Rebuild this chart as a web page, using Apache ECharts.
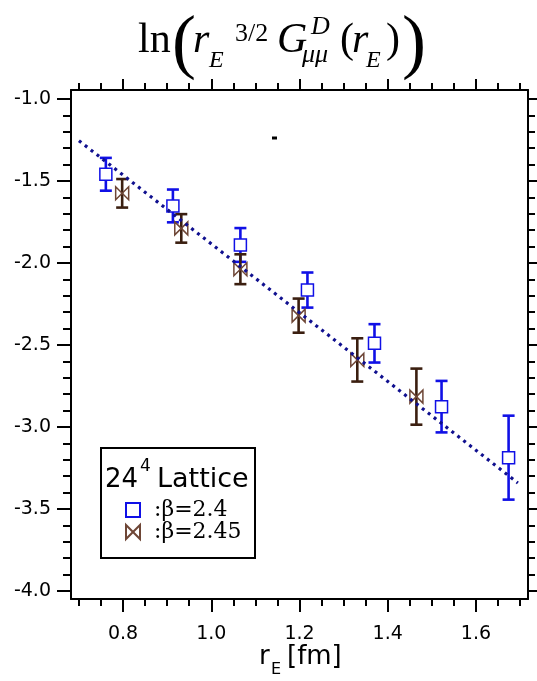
<!DOCTYPE html>
<html>
<head>
<meta charset="utf-8">
<script src="https://cdn.jsdelivr.net/npm/echarts@6/dist/echarts.min.js"></script>
<style>
  html, body { margin: 0; padding: 0; background: #fff; }
  #chart { width: 537px; height: 681px; }
</style>
</head>
<body>
<div id="chart"></div>
<script>
// beta = 2.4 (blue squares)
const blueX = [0.761, 0.913, 1.066, 1.218, 1.370, 1.522, 1.674]
const blueY = [-1.459, -1.652, -1.890, -2.165, -2.490, -2.876, -3.187]
const blueErr = [0.100, 0.100, 0.103, 0.107, 0.117, 0.157, 0.256]

// beta = 2.45 (brown bowties)
const brownX = [0.798, 0.932, 1.066, 1.198, 1.331, 1.465]
const brownY = [-1.575, -1.789, -2.038, -2.321, -2.591, -2.815]
const brownErr = [0.087, 0.087, 0.091, 0.104, 0.132, 0.171]

// dotted fit line end points
const fitX = [0.700, 1.695]
const fitY = [-1.254, -3.341]

// axis ticks
const xMajor = [0.8, 1.0, 1.2, 1.4, 1.6]
const xMinor = [0.7, 0.75, 0.85, 0.9, 0.95, 1.05, 1.1, 1.15, 1.25, 1.3, 1.35, 1.45, 1.5, 1.55, 1.65, 1.7]
const yMajor = [-4.0, -3.5, -3.0, -2.5, -2.0, -1.5, -1.0]
const yMinor = [-3.9, -3.8, -3.7, -3.6, -3.4, -3.3, -3.2, -3.1, -2.9, -2.8, -2.7, -2.6,
  -2.4, -2.3, -2.2, -2.1, -1.9, -1.8, -1.7, -1.6, -1.4, -1.3, -1.2, -1.1]

const names = [':β=2.4', ':β=2.45']

const chart = echarts.init(document.getElementById('chart'))

const BLUE = '#1010e6'
const BROWN = '#3b1f10'
const BOWTIE = '#6e4636'
const bowtie = 'path://M0,0 L0,10 L10,0 L10,10 Z'

const X_MIN = 0.682, X_MAX = 1.718
const Y_MIN = -4.049, Y_MAX = -0.945

const errorBars = (xs, ys, errs, color) => ({
  type: 'custom',
  z: 2,
  data: xs.map((x, i) => [x, ys[i] - errs[i], ys[i] + errs[i]]),
  encode: { x: 0, y: [1, 2] },
  renderItem (params, api) {
    const lo = api.coord([api.value(0), api.value(1)])
    const hi = api.coord([api.value(0), api.value(2)])
    const w = 6
    const style = { stroke: color, lineWidth: 2.6 }
    return {
      type: 'group',
      children: [
        { type: 'line', shape: { x1: hi[0], y1: hi[1], x2: lo[0], y2: lo[1] }, style },
        { type: 'line', shape: { x1: hi[0] - w, y1: hi[1], x2: hi[0] + w, y2: hi[1] }, style },
        { type: 'line', shape: { x1: lo[0] - w, y1: lo[1], x2: lo[0] + w, y2: lo[1] }, style }
      ]
    }
  }
})

const axisLine = { show: true, lineStyle: { color: '#000', width: 2 } }
const noLine = { show: false }
const xAxis = (pos, ticks, len, withLine, withLabels) => ({
  type: 'value', position: pos, min: X_MIN, max: X_MAX,
  axisLine: withLine ? axisLine : noLine,
  axisTick: { show: true, customValues: ticks, length: len, lineStyle: { color: '#000', width: 2 } },
  axisLabel: withLabels ? {
    show: true, customValues: ticks, margin: 26,
    formatter: v => v.toFixed(1),
    fontFamily: 'DejaVu Sans', fontSize: 19, color: '#000'
  } : { show: false },
  splitLine: { show: false }
})
const yAxis = (pos, ticks, len, withLine, withLabels) => ({
  type: 'value', position: pos, min: Y_MIN, max: Y_MAX,
  axisLine: withLine ? axisLine : noLine,
  axisTick: { show: true, customValues: ticks, length: len, lineStyle: { color: '#000', width: 2 } },
  axisLabel: withLabels ? {
    show: true, customValues: ticks, margin: 20,
    formatter: v => v.toFixed(1),
    fontFamily: 'DejaVu Sans', fontSize: 19, color: '#000'
  } : { show: false },
  splitLine: { show: false }
})

const titleFont = 'Liberation Serif'
const t = (text, x, y, size, italic) => ({
  type: 'text', x, y,
  style: {
    text, fontFamily: titleFont, fontSize: size, fill: '#000',
    fontStyle: italic ? 'italic' : 'normal', verticalAlign: 'middle'
  }
})
const sans = (text, x, y, size) => ({
  type: 'text', z: 1, x, y,
  style: { text, fontFamily: 'DejaVu Sans', fontSize: size, fill: '#000', verticalAlign: 'middle' }
})

const option = {
  backgroundColor: '#fff',
  animation: false,
  grid: { left: 71, right: 9, top: 90, bottom: 82 },
  xAxis: [
    xAxis('bottom', xMajor, 13, true, true),
    xAxis('bottom', xMinor, 7, false, false),
    xAxis('top', xMajor, 11, true, false),
    xAxis('top', xMinor, 7, false, false)
  ],
  yAxis: [
    yAxis('left', yMajor, 14, true, true),
    yAxis('left', yMinor, 8, false, false),
    yAxis('right', yMajor, 11, true, false),
    yAxis('right', yMinor, 7, false, false)
  ],
  legend: {
    data: names,
    orient: 'vertical',
    left: 125,
    top: 499,
    padding: 0,
    itemGap: 0,
    itemWidth: 14,
    itemHeight: 14,
    textStyle: {
      fontFamily: 'DejaVu Serif', fontSize: 22, color: '#000',
      lineHeight: 22, padding: [0, 0, 0, 9]
    }
  },
  graphic: [
    // title
    t('ln', 138, 41, 42, false),
    t('(', 172, 46, 72, false),
    t('r', 193, 41, 42, true),
    t('E', 209, 61, 24, true),
    t('3/2', 235, 34, 26, false),
    t('G', 277, 41, 42, true),
    t('D', 311, 27, 26, true),
    t('μμ', 302, 55, 26, true),
    t('(', 340, 41, 42, false),
    t('r', 352, 41, 42, true),
    t('E', 366, 61, 24, true),
    t(')', 386, 41, 42, false),
    t(')', 402, 46, 72, false),
    // x axis name
    sans('r', 259, 657, 26),
    sans('E', 271, 670, 16),
    sans('[fm]', 287, 657, 26),
    // stray mark
    { type: 'rect', shape: { x: 272, y: 136.5, width: 5, height: 3 }, style: { fill: '#000' } },
    // legend frame and header
    { type: 'rect', z: 0, shape: { x: 101, y: 448, width: 154, height: 110 }, style: { fill: '#fff', stroke: '#000', lineWidth: 2 } },
    sans('24', 105, 480, 26),
    sans('4', 140, 467, 17),
    sans('Lattice', 157, 480, 27)
  ],
  series: [
    errorBars(blueX, blueY, blueErr, BLUE),
    errorBars(brownX, brownY, brownErr, BROWN),
    {
      type: 'line',
      z: 4,
      data: fitX.map((x, i) => [x, fitY[i]]),
      showSymbol: false,
      symbol: 'none',
      lineStyle: { color: '#10108f', width: 3.2, type: [3, 4.5] }
    },
    {
      name: names[0],
      type: 'scatter',
      z: 3,
      data: blueX.map((x, i) => [x, blueY[i]]),
      symbol: 'rect',
      symbolSize: 12,
      itemStyle: { color: '#fff', borderColor: BLUE, borderWidth: 1.5, opacity: 1 }
    },
    {
      name: names[1],
      type: 'scatter',
      z: 3,
      data: brownX.map((x, i) => [x, brownY[i]]),
      symbol: bowtie,
      symbolSize: 13,
      itemStyle: { color: 'rgba(0,0,0,0)', borderColor: BOWTIE, borderWidth: 1.5, opacity: 1 }
    }
  ]
}

chart.setOption(option)
</script>
</body>
</html>
